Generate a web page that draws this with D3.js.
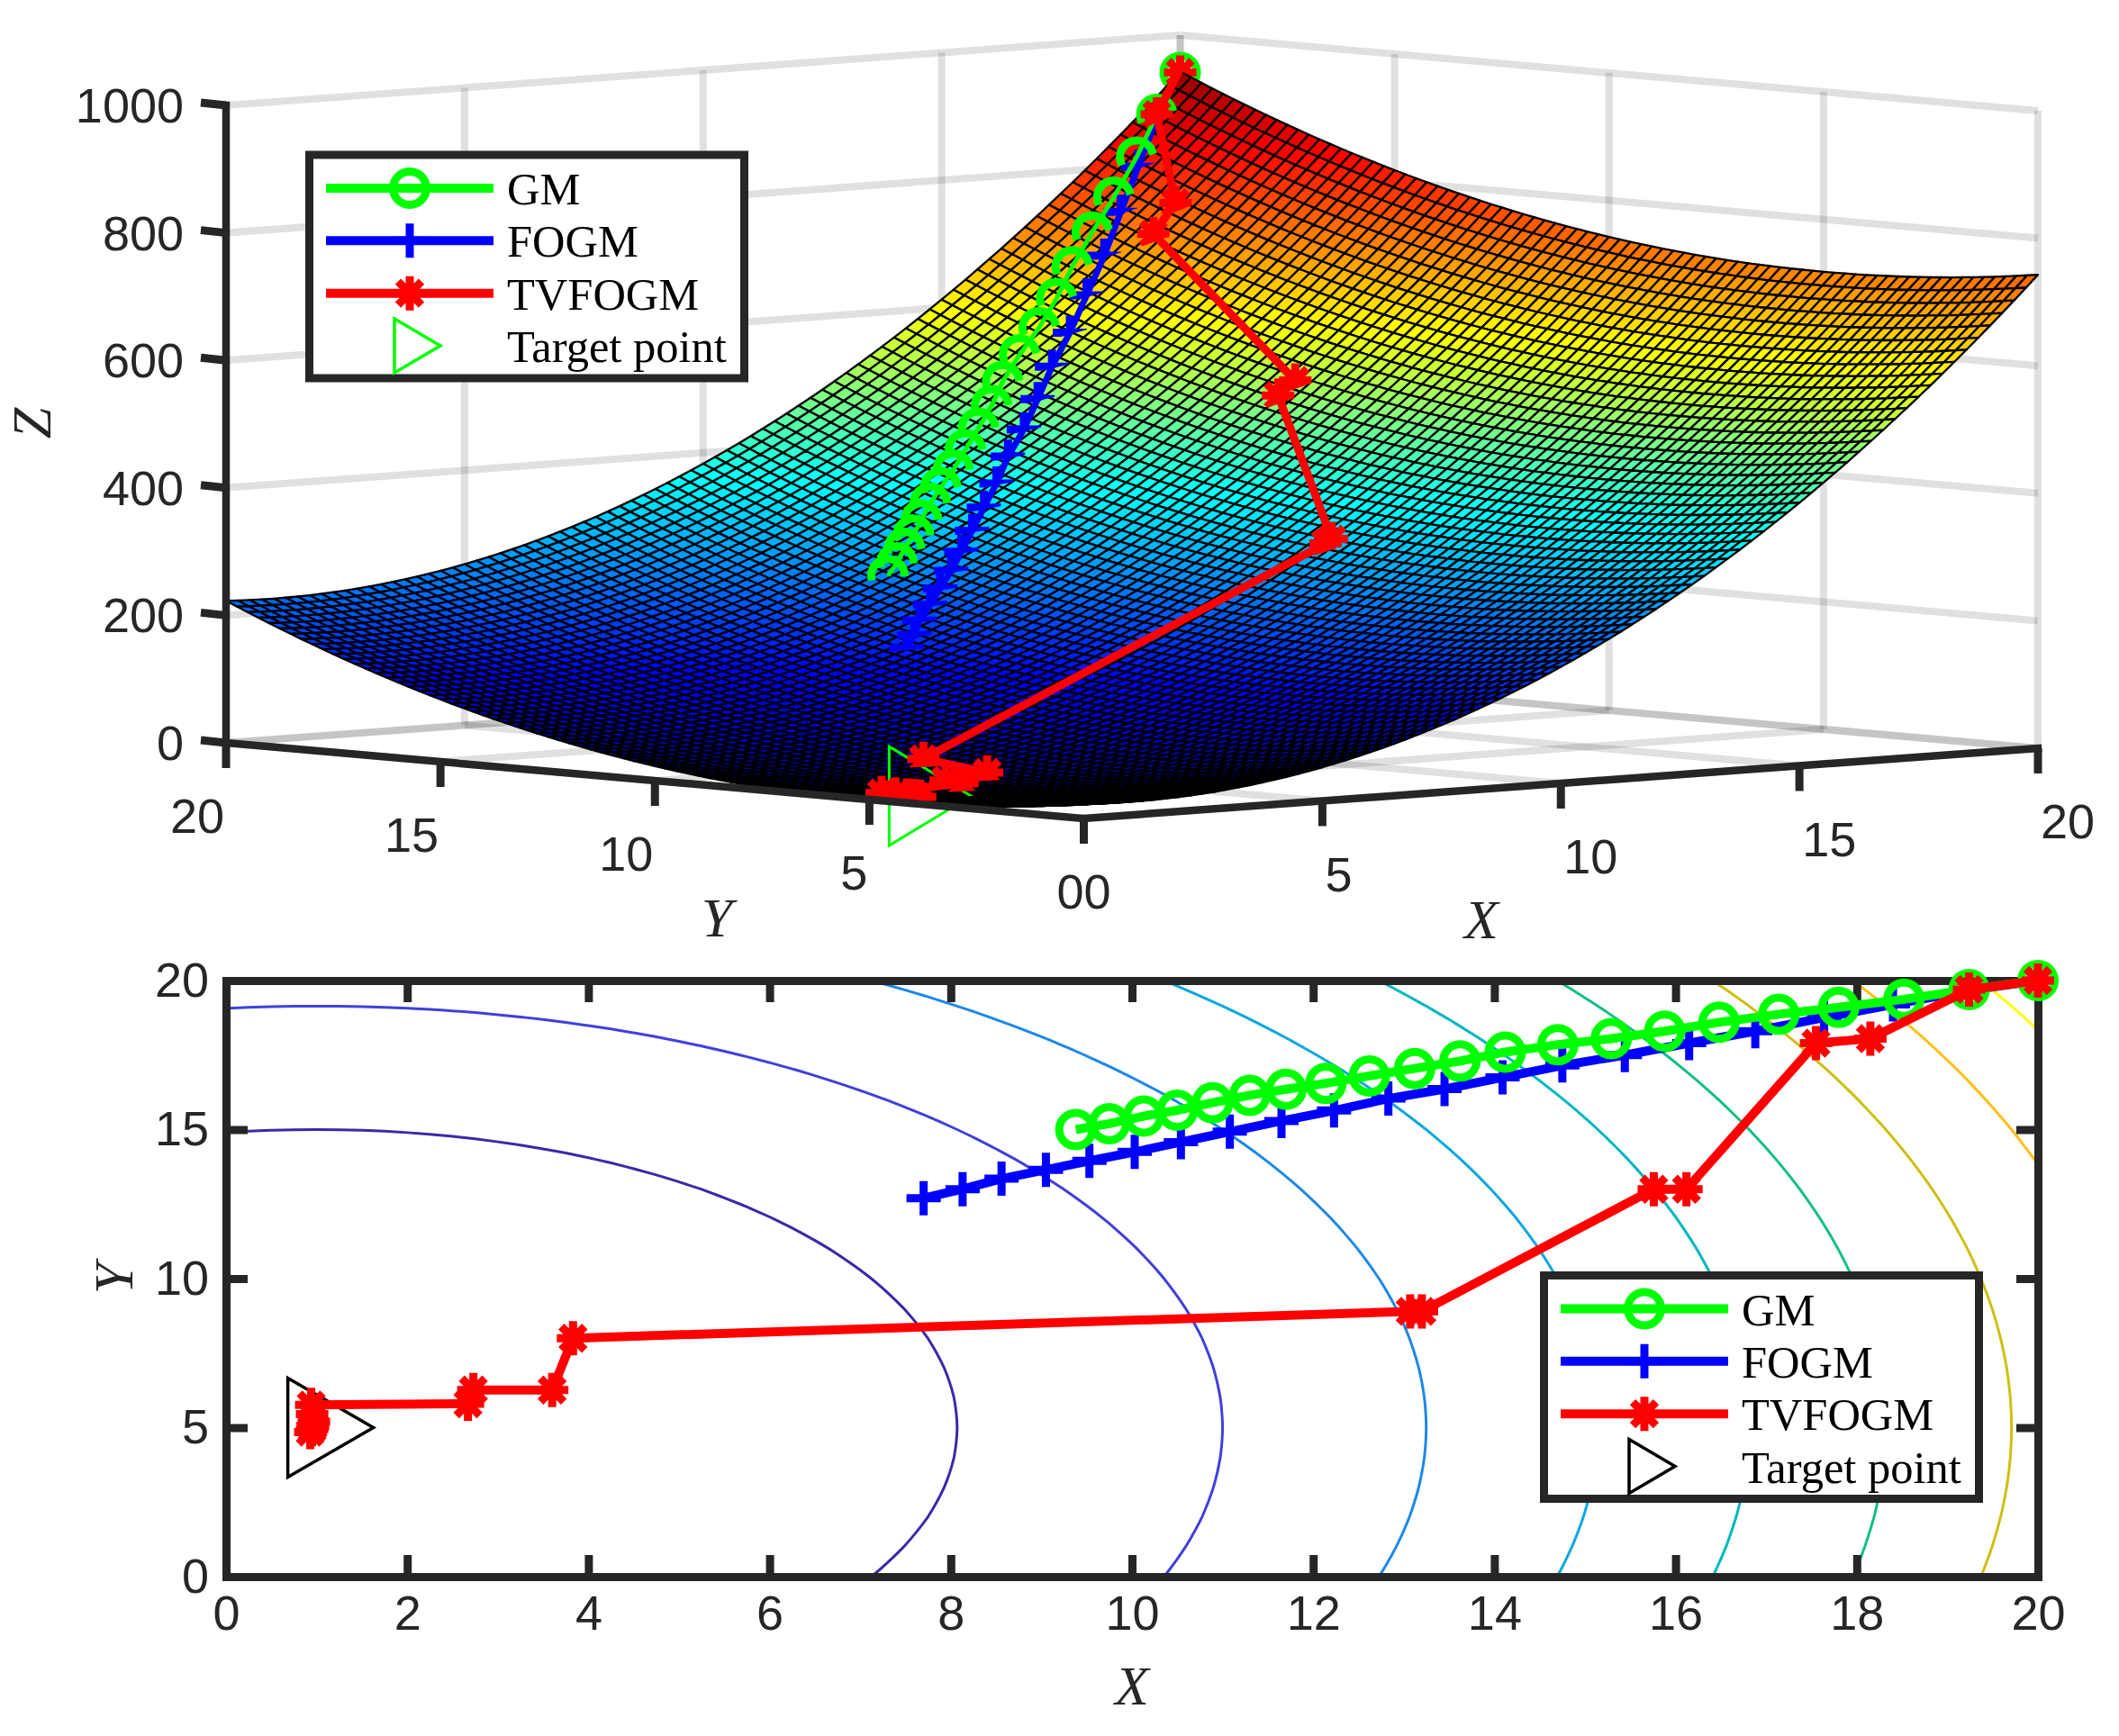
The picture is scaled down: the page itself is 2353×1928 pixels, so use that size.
<!DOCTYPE html>
<meta charset="utf-8">
<script src="https://d3js.org/d3.v7.min.js"></script>
<style>
  html, body { margin: 0; background: #fff; }
  svg { display: block; }
</style>
<body>
<div id="my_dataviz"></div>
<script>
// surface heights read along the two grid directions, one value every 0.25 unit
var gridStep = 0.25
var zAlongX = [2,1.1,0.5,0.1,0,0.1,0.5,1.1,2,3.1,4.5,6.1,8,10.1,12.5,15.1,18,21.1,24.5,28.1,32,36.1,40.5,45.1,50,55.1,60.5,66.1,72,78.1,84.5,91.1,98,105.1,112.5,120.1,128,136.1,144.5,153.1,162,171.1,180.5,190.1,200,210.1,220.5,231.1,242,253.1,264.5,276.1,288,300.1,312.5,325.1,338,351.1,364.5,378.1,392,406.1,420.5,435.1,450,465.1,480.5,496.1,512,528.1,544.5,561.1,578,595.1,612.5,630.1,648,666.1,684.5,703.1,722]
var zAlongY = [25,22.6,20.3,18.1,16,14.1,12.3,10.6,9,7.6,6.3,5.1,4,3.1,2.3,1.6,1,0.6,0.3,0.1,0,0.1,0.3,0.6,1,1.6,2.3,3.1,4,5.1,6.3,7.6,9,10.6,12.3,14.1,16,18.1,20.3,22.6,25,27.6,30.3,33.1,36,39.1,42.3,45.6,49,52.6,56.3,60.1,64,68.1,72.3,76.6,81,85.6,90.3,95.1,100,105.1,110.3,115.6,121,126.6,132.3,138.1,144,150.1,156.3,162.6,169,175.6,182.3,189.1,196,203.1,210.3,217.6,225]

// trajectories
var gmX = [20,19.24,18.52,17.8,17.14,16.48,15.88,15.29,14.7,14.12,13.62,13.12,12.62,12.14,11.7,11.3,10.89,10.5,10.13,9.75,9.38]
var gmY = [20,19.7,19.37,19.1,18.87,18.6,18.3,18.05,17.85,17.6,17.3,17.05,16.8,16.55,16.35,16.15,15.9,15.65,15.45,15.2,15]
var gmZ = [947,881.5,820.4,763.3,713.4,664.3,619.7,578.7,540.5,503.1,469.8,439,409.2,381.6,357.8,336.5,314.4,293.9,275.9,257.1,240.4]

var fogmX = [20,19.24,18.4,17.64,16.88,16.15,15.44,14.75,14.09,13.45,12.83,12.23,11.65,11.08,10.54,10.03,9.53,9.05,8.56,8.13,7.7]
var fogmY = [20,19.67,19.2,18.76,18.3,17.9,17.5,17.15,16.75,16.36,16.04,15.64,15.29,14.93,14.58,14.25,13.95,13.65,13.35,13,12.7]
var fogmZ = [947,880.6,807.1,743.1,681.2,625.4,573.3,525.7,480.8,439,401.8,365.4,332.7,301.8,273.8,248.7,225.6,204.4,184,165.7,149.1]

var tvX = [20,19.24,18.15,17.55,16.12,15.76,13.2,13.07,3.83,3.6,2.73,2.67,0.94,0.95,0.97,0.96,0.95,0.93]
var tvY = [20,19.7,18.05,17.9,13,13,8.9,8.9,8,6.26,6.26,5.8,5.76,5.45,5.2,5.05,4.95,4.85]
var tvZ = [947,881.5,758.5,714.2,521.2,499.7,312.9,306.6,25,15.1,7.6,6.2,0.6,0.2,0,0,0,0]

var targetX = 1, targetY = 5, targetZ = 0

// ticks
var ticks3d = [0,5,10,15,20]
var zTicks = [0,200,400,600,800,1000]
var xTicks2d = [0,2,4,6,8,10,12,14,16,18,20]
var yTicks2d = [0,5,10,15,20]

// contour levels and colours
var levels = [100,200,300,400,500,600,700,800,900]
var levelColors = ["#3a2aa8","#4040dc","#1c88e8","#0aa8e0","#00b8bf","#10c080","#cfbf10","#ffbf18","#ffff00"]

var legendNames = ["GM","FOGM","TVFOGM","Target point"]

var width = 2353, height = 1928, ink = "#262626"

var svg = d3.select("#my_dataviz").append("svg")
  .attr("width", width).attr("height", height)
var defs = svg.append("defs")

// ---------- 3D panel: orthographic view, each data axis gets its own screen scales
var origin = [1203.5, 909]
var xToH = d3.scaleLinear().domain([0,20]).range([0,1059.5])
var xToV = d3.scaleLinear().domain([0,20]).range([0,-78])
var yToH = d3.scaleLinear().domain([0,20]).range([0,-952.5])
var yToV = d3.scaleLinear().domain([0,20]).range([0,-84])
var zToV = d3.scaleLinear().domain([0,1000]).range([0,-708])

function project(x, y, z) {
  return [origin[0] + xToH(x) + yToH(y), origin[1] + xToV(x) + yToV(y) + zToV(z)]
}

var top3d = svg.append("g")

// gray walls and floor
var gridLines = []
ticks3d.forEach(function(t) {
  gridLines.push([[t,20,0],[t,20,1000]])
  gridLines.push([[20,t,0],[20,t,1000]])
  gridLines.push([[t,0,0],[t,20,0]])
  gridLines.push([[0,t,0],[20,t,0]])
})
zTicks.forEach(function(t) {
  gridLines.push([[0,20,t],[20,20,t]])
  gridLines.push([[20,20,t],[20,0,t]])
})
top3d.append("g").selectAll("line").data(gridLines).join("line")
  .attr("x1", function(d) { return project(d[0][0],d[0][1],d[0][2])[0] })
  .attr("y1", function(d) { return project(d[0][0],d[0][1],d[0][2])[1] })
  .attr("x2", function(d) { return project(d[1][0],d[1][1],d[1][2])[0] })
  .attr("y2", function(d) { return project(d[1][0],d[1][1],d[1][2])[1] })
  .attr("stroke", ink).attr("stroke-opacity", 0.14).attr("stroke-width", 8)

// marker shapes
function ring(g) {
  g.append("circle").attr("r", 18.5).attr("fill", "none").attr("stroke", "#00ff00").attr("stroke-width", 9)
}
function plus(g) {
  g.append("path").attr("d", "M-19,0H19M0,-19V19").attr("fill", "none").attr("stroke", "#0000ff").attr("stroke-width", 9)
}
function star(g) {
  g.append("path").attr("d", "M-18,0H18M0,-19V19M-13,-13L13,13M-13,13L13,-13")
    .attr("fill", "none").attr("stroke", "#ff0000").attr("stroke-width", 9)
}
function triangle(g, color, l, r, h, w) {
  g.append("path").attr("d", "M" + (-l) + "," + (-h) + "L" + r + ",0L" + (-l) + "," + h + "Z")
    .attr("fill", "none").attr("stroke", color).attr("stroke-width", w)
}

// target point: the part under the surface is drawn before it
var targetAt = project(targetX, targetY, targetZ)
triangle(top3d.append("g").attr("transform", "translate(" + targetAt + ")"), "#00ff00", 31, 60, 55, 3)

// the start point sits at the surface corner, behind it
var startAt = project(gmX[0], gmY[0], gmZ[0])
startAt[1] += 4
ring(top3d.append("g").attr("transform", "translate(" + startAt + ")"))
star(top3d.append("g").attr("transform", "translate(" + startAt + ")"))

// surface
var jet = d3.scaleLinear()
  .domain([0,0.125,0.375,0.625,0.875,1].map(function(t) { return t * 947 }))
  .range(["#00008f","#0000ff","#00ffff","#ffff00","#ff0000","#800000"])

function height3d(i, j) { return zAlongX[i] + zAlongY[j] }

var cells = []
d3.range(zAlongX.length - 1).forEach(function(i) {
  d3.range(zAlongY.length - 1).forEach(function(j) { cells.push([i, j]) })
})
cells.sort(function(a, b) { return (b[0] + b[1]) - (a[0] + a[1]) })

function corner(i, j) { return project(i * gridStep, j * gridStep, height3d(i, j)) }

top3d.append("g").attr("transform", "translate(0,3)")
  .selectAll("path").data(cells).join("path")
  .attr("d", function(d) {
    var i = d[0], j = d[1]
    return "M" + corner(i,j) + "L" + corner(i+1,j) + "L" + corner(i+1,j+1) + "L" + corner(i,j+1) + "Z"
  })
  .attr("fill", function(d) { return jet(height3d(d[0], d[1])) })
  .attr("stroke", "#000").attr("stroke-width", 2.3).attr("stroke-linejoin", "round")

// target point: upper half stays in front
defs.append("clipPath").attr("id", "targetTop").append("rect")
  .attr("x", targetAt[0] - 100).attr("y", targetAt[1] - 100).attr("width", 200).attr("height", 100)
triangle(top3d.append("g").attr("clip-path", "url(#targetTop)").append("g")
  .attr("transform", "translate(" + targetAt + ")"), "#00ff00", 31, 60, 55, 3)

// the markers sink into the surface, so only the part in front of it is shown.
// The cut runs along the line where the tangent plane meets the screen plane.
function cutAngle(x, y, z) {
  var i = Math.max(1, Math.min(zAlongX.length - 2, Math.round(x / gridStep)))
  var j = Math.max(1, Math.min(zAlongY.length - 2, Math.round(y / gridStep)))
  var fx = (zAlongX[i+1] - zAlongX[i-1]) / (2 * gridStep)
  var fy = (zAlongY[j+1] - zAlongY[j-1]) / (2 * gridStep)
  var dy = -(31.6 - 0.0388 * fx) / (35.2 - 0.0388 * fy)
  var a = project(x, y, z), b = project(x + 1, y + dy, z + fx + fy * dy)
  return Math.atan2(b[1] - a[1], b[0] - a[0]) * 180 / Math.PI
}

function addCut(id, below) {
  defs.append("clipPath").attr("id", id).append("rect")
    .attr("x", -80).attr("y", -80).attr("width", 160).attr("height", 80 + below)
}
addCut("cutGm", 3)
addCut("cutFogm", 2)
addCut("cutTv", 9)

var line = d3.line()

function series3d(xs, ys, zs, color, lineWidth, marker, cutId) {
  var g = top3d.append("g")
  var pts = xs.map(function(x, k) { return project(x, ys[k], zs[k]) })
  g.append("path").attr("d", line(pts)).attr("fill", "none")
    .attr("stroke", color).attr("stroke-width", lineWidth).attr("stroke-linejoin", "round")
  pts.forEach(function(p, k) {
    if (k === 0) return
    var a = cutAngle(xs[k], ys[k], zs[k])
    var outer = g.append("g").attr("transform", "translate(" + p + ") rotate(" + a + ")")
      .attr("clip-path", "url(#" + cutId + ")")
    marker(outer.append("g").attr("transform", "rotate(" + (-a) + ")"))
  })
}
series3d(fogmX, fogmY, fogmZ, "#0000ff", 7, plus, "cutFogm")
series3d(gmX, gmY, gmZ, "#00ff00", 5, ring, "cutGm")
series3d(tvX, tvY, tvZ, "#ff0000", 9, star, "cutTv")

// black axes
var tickLen = 28
function axisLine(g, a, b, w) {
  g.append("line").attr("x1", a[0]).attr("y1", a[1]).attr("x2", b[0]).attr("y2", b[1])
    .attr("stroke", ink).attr("stroke-width", w).attr("stroke-linecap", "square")
}
var axes3d = top3d.append("g")
axisLine(axes3d, project(0,0,0), project(20,0,0), 8.5)
axisLine(axes3d, project(0,0,0), project(0,20,0), 8.5)
axisLine(axes3d, project(0,20,0), project(0,20,1000), 8.5)

var labelFont = "'Liberation Sans', Arial, sans-serif"
function tickText(x, y, txt, anchor) {
  top3d.append("text").attr("x", x).attr("y", y).text(txt)
    .attr("text-anchor", anchor).attr("font-family", labelFont).attr("font-size", 54).attr("fill", ink)
}
ticks3d.forEach(function(t) {
  var px = project(t,0,0), py = project(0,t,0)
  axes3d.append("line").attr("x1", px[0]).attr("y1", px[1]).attr("x2", px[0]).attr("y2", px[1] + tickLen)
    .attr("stroke", ink).attr("stroke-width", 9)
  axes3d.append("line").attr("x1", py[0]).attr("y1", py[1]).attr("x2", py[0]).attr("y2", py[1] + tickLen)
    .attr("stroke", ink).attr("stroke-width", 9)
  tickText(px[0] + (t === 0 ? 0 : 3), px[1] + 100, t, "start")
  tickText(py[0] - (t === 0 ? 0 : 2), py[1] + 100, t, "end")
})
zTicks.forEach(function(t) {
  var p = project(0,20,t), q = [p[0] - tickLen, p[1] - 3]
  axes3d.append("line").attr("x1", p[0]).attr("y1", p[1]).attr("x2", q[0]).attr("y2", q[1])
    .attr("stroke", ink).attr("stroke-width", 9)
  tickText(204, p[1] + 19, t, "end")
})

function axisName(txt, x, y, rotate) {
  svg.append("text").text(txt)
    .attr("transform", "translate(" + x + "," + y + ")" + (rotate ? " rotate(-90)" : ""))
    .attr("text-anchor", "middle")
    .attr("font-family", "'Liberation Serif', 'Times New Roman', serif").attr("font-style", "italic")
    .attr("font-size", 62).attr("fill", ink)
}
axisName("Z", 56, 470, true)
axisName("Y", 796, 1040, false)
axisName("X", 1645, 1042, false)

// ---------- contour panel
var x2d = d3.scaleLinear().domain([0,20]).range([251,2263])
var y2d = d3.scaleLinear().domain([0,20]).range([1751,1089])

defs.append("clipPath").attr("id", "plotBox").append("rect")
  .attr("x", 251).attr("y", 1089).attr("width", 2012).attr("height", 662)

var grid = []
zAlongY.forEach(function(zy) { zAlongX.forEach(function(zx) { grid.push(zx + zy) }) })
var contourShapes = d3.contours().size([zAlongX.length, zAlongY.length]).thresholds(levels)(grid)

var contourPath = d3.geoPath(d3.geoTransform({
  point: function(px, py) {
    this.stream.point(x2d((px - 0.5) * gridStep), y2d((py - 0.5) * gridStep))
  }
}))
svg.append("g").attr("clip-path", "url(#plotBox)")
  .selectAll("path").data(contourShapes).join("path")
  .attr("d", contourPath).attr("fill", "none")
  .attr("stroke", function(d, i) { return levelColors[i] }).attr("stroke-width", 3)

function styleAxis(g, w) {
  g.selectAll("path.domain").attr("stroke", ink).attr("stroke-width", w).attr("stroke-linecap", "square")
  g.selectAll(".tick line").attr("stroke", ink).attr("stroke-width", 9)
  g.selectAll(".tick text").attr("fill", ink).attr("font-family", labelFont).attr("font-size", 54)
}
var axisB = svg.append("g").attr("transform", "translate(0,1751)")
  .call(d3.axisBottom(x2d).tickValues(xTicks2d).tickSizeInner(-24).tickSizeOuter(0).tickPadding(21))
var axisT = svg.append("g").attr("transform", "translate(0,1089)")
  .call(d3.axisTop(x2d).tickValues(xTicks2d).tickSizeInner(-24).tickSizeOuter(0).tickFormat(""))
var axisL = svg.append("g").attr("transform", "translate(251,0)")
  .call(d3.axisLeft(y2d).tickValues(yTicks2d).tickSizeInner(-24).tickSizeOuter(0).tickPadding(19))
var axisR = svg.append("g").attr("transform", "translate(2263,0)")
  .call(d3.axisRight(y2d).tickValues(yTicks2d).tickSizeInner(-24).tickSizeOuter(0).tickFormat(""))
;[axisB, axisT, axisL, axisR].forEach(function(a) { styleAxis(a, 9) })

axisName("X", 1257, 1893, false)
axisName("Y", 147, 1420, true)

// black target mark, then the paths
triangle(svg.append("g").attr("transform", "translate(" + x2d(targetX) + "," + y2d(targetY) + ")"), "#000", 32, 63, 55, 3.5)

function series2d(xs, ys, color, marker) {
  var g = svg.append("g")
  var pts = xs.map(function(x, k) { return [x2d(x), y2d(ys[k])] })
  g.append("path").attr("d", line(pts)).attr("fill", "none")
    .attr("stroke", color).attr("stroke-width", 10).attr("stroke-linejoin", "round")
  pts.forEach(function(p) { marker(g.append("g").attr("transform", "translate(" + p + ")")) })
}
series2d(fogmX, fogmY, "#0000ff", plus)
series2d(gmX, gmY, "#00ff00", ring)
series2d(tvX, tvY, "#ff0000", star)

// ---------- legends, same layout for both
function legend(dx, dy, targetColor) {
  var g = svg.append("g").attr("transform", "translate(" + dx + "," + dy + ")")
  g.append("rect").attr("x", 343.5).attr("y", 172).attr("width", 483).attr("height", 248)
    .attr("fill", "#fff").attr("stroke", ink).attr("stroke-width", 9)
  var rows = d3.scalePoint().domain(legendNames).range([209, 384])
  var colors = ["#00ff00", "#0000ff", "#ff0000"]
  var marks = [ring, plus, star]
  legendNames.forEach(function(name, k) {
    var y = rows(name)
    if (k < 3) {
      g.append("line").attr("x1", 362).attr("x2", 548).attr("y1", y).attr("y2", y)
        .attr("stroke", colors[k]).attr("stroke-width", 10)
      marks[k](g.append("g").attr("transform", "translate(455," + y + ")"))
    } else {
      triangle(g.append("g").attr("transform", "translate(455," + y + ")"), targetColor, 17, 34, 30, 3.5)
    }
    g.append("text").attr("x", 563).attr("y", y + 18).text(name)
      .attr("font-family", "'Liberation Serif', 'Times New Roman', serif")
      .attr("font-size", 50.5).attr("fill", "#000")
  })
}
legend(0, 0, "#00ff00")
legend(1371, 1244.5, "#000")
</script>
</body>
</html>
